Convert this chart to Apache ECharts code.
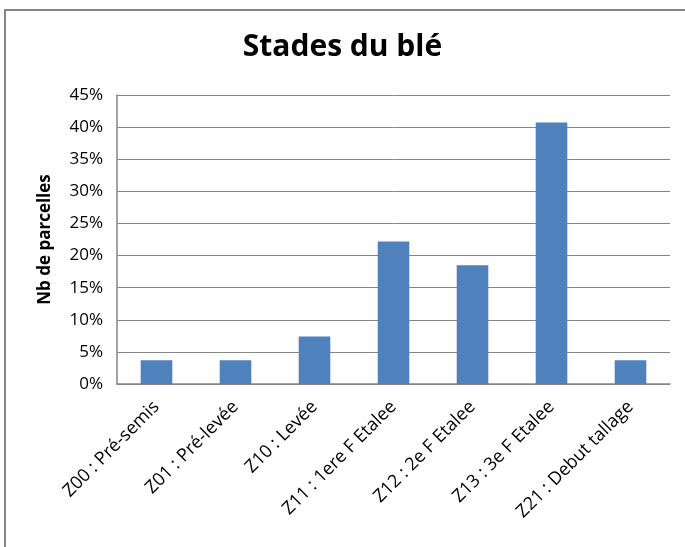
<!DOCTYPE html>
<html><head><meta charset="utf-8">
<script src="https://cdn.jsdelivr.net/npm/echarts@6/dist/echarts.min.js"></script>
<style>html,body{margin:0;padding:0;background:#fff}#c{width:685px;height:547px}</style>
</head><body><div id="c"></div>
<script>
const categories = ["Z00 : Pré-semis","Z01 : Pré-levée","Z10 : Levée","Z11 : 1ere F Etalee","Z12 : 2e F Etalee","Z13 : 3e F Etalee","Z21 : Debut tallage"];
const values = [3.7, 3.7, 7.4, 22.2, 18.5, 40.7, 3.7];
const yTicks = {min: 0, max: 45, interval: 5};
const chart = echarts.init(document.getElementById('c'));
const font = "'Open Sans', 'Noto Sans', sans-serif";
chart.setOption({
  animation: false,
  graphic: [{type:'rect', shape:{x:5, y:10, width:700, height:560}, style:{fill:'none', stroke:'#868686', lineWidth:2}}],
  title: {text: 'Stades du blé', left: 'center', top: 27, textStyle: {fontFamily: font, fontSize: 30, fontWeight: 'bold', color: '#000'}},
  grid: {left: 117, right: 15, top: 95, bottom: 163},
  xAxis: {type: 'category', data: categories,
    axisLine: {lineStyle: {color: '#868686', width: 1.5}}, axisTick: {show: false},
    axisLabel: {rotate: 45, fontFamily: font, fontSize: 18, color: '#000', margin: 20, interval: 0}},
  yAxis: {type: 'value', min: yTicks.min, max: yTicks.max, interval: yTicks.interval,
    name: 'Nb de parcelles', nameLocation: 'middle', nameGap: 63,
    nameTextStyle: {fontFamily: font, fontSize: 17, fontWeight: 'bold', color: '#000'},
    axisLine: {show: true, lineStyle: {color: '#868686', width: 1.5}}, axisTick: {show: false},
    splitLine: {lineStyle: {color: '#868686', width: 1}},
    axisLabel: {formatter: '{value}%', fontFamily: font, fontSize: 17, color: '#000', margin: 14}},
  series: [{type: 'bar', data: values, barCategoryGap: '60%',
    itemStyle: {color: '#4f81bd'}}]
});
</script></body></html>
